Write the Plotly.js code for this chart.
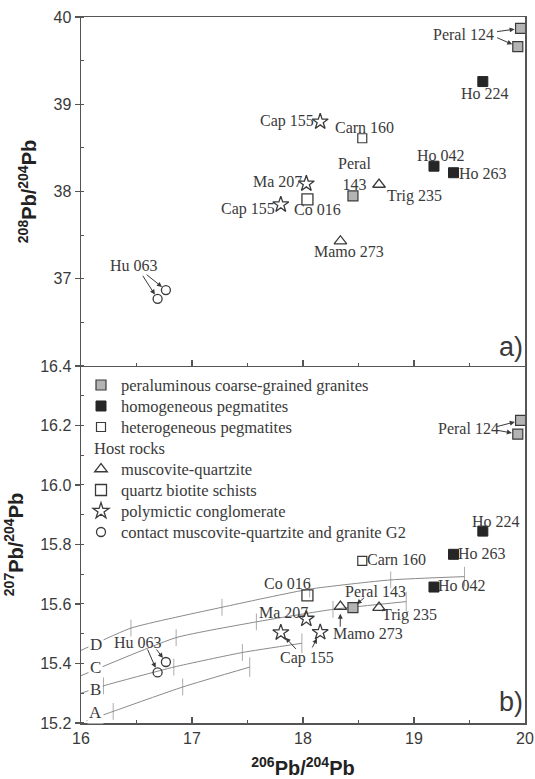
<!DOCTYPE html>
<html>
<head>
<meta charset="utf-8">
<script src="https://cdn.plot.ly/plotly-3.0.1.min.js"></script>
<style>html,body{margin:0;padding:0;background:#fff;}#chart{width:535px;height:779px;}</style>
</head>
<body>
<div id="chart"></div>
<script>
// ---------------- DATA ----------------
// Peraluminous coarse-grained granites
const granNames = ['Peral 124', 'Peral 124', 'Peral 143'];
const gran206 = [19.96, 19.935, 18.45];
const gran207 = [16.217, 16.171, 15.588];
const gran208 = [39.87, 39.66, 37.95];
// Homogeneous pegmatites
const homNames = ['Ho 224', 'Ho 263', 'Ho 042'];
const hom206 = [19.62, 19.356, 19.18];
const hom207 = [15.845, 15.767, 15.657];
const hom208 = [39.26, 38.215, 38.29];
// Heterogeneous pegmatites
const hetNames = ['Carn 160'];
const het206 = [18.534];
const het207 = [15.745];
const het208 = [38.61];
// Host rocks: muscovite-quartzite
const musNames = ['Mamo 273', 'Trig 235'];
const mus206 = [18.337, 18.685];
const mus207 = [15.591, 15.588];
const mus208 = [37.43, 38.08];
// Host rocks: quartz biotite schists
const schNames = ['Co 016'];
const sch206 = [18.04];
const sch207 = [15.629];
const sch208 = [37.91];
// Host rocks: polymictic conglomerate
const conNames = ['Cap 155', 'Cap 155', 'Ma 207'];
const con206 = [17.80, 18.155, 18.03];
const con207 = [15.504, 15.505, 15.55];
const con208 = [37.85, 38.80, 38.09];
// Host rocks: contact muscovite-quartzite and granite G2
const ctcNames = ['Hu 063', 'Hu 063'];
const ctc206 = [16.69, 16.765];
const ctc207 = [15.37, 15.405];
const ctc208 = [36.77, 36.87];

// Pb growth curves A-D (206Pb/204Pb, 207Pb/204Pb)
const curveNames = ['A', 'B', 'C', 'D'];
const curveA206 = [16.05, 16.29, 16.916, 17.52];
const curveA207 = [15.207, 15.239, 15.321, 15.388];
const curveB206 = [16.0, 16.203, 16.836, 17.454, 17.99];
const curveB207 = [15.30, 15.325, 15.388, 15.437, 15.468];
const curveC206 = [16.0, 16.857, 17.58, 18.27, 18.93];
const curveC207 = [15.359, 15.487, 15.54, 15.582, 15.608];
const curveD206 = [16.0, 16.45, 17.27, 18.06, 18.79, 19.455];
const curveD207 = [15.444, 15.519, 15.589, 15.65, 15.681, 15.692];

const legendLabels = ['peraluminous coarse-grained granites', 'homogeneous pegmatites',
  'heterogeneous pegmatites', 'muscovite-quartzite', 'quartz biotite schists',
  'polymictic conglomerate', 'contact muscovite-quartzite and granite G2'];
const hostRocksTitle = 'Host rocks';

const xTicks = [16, 17, 18, 19, 20];
const yTopTicks = [37, 38, 39, 40];
const yBotTicks = [15.2, 15.4, 15.6, 15.8, 16.0, 16.2, 16.4];
const yBotTickText = ['15.2', '15.4', '15.6', '15.8', '16.0', '16.2', '16.4'];

// ---------------- STYLE ----------------
const INK = '#3a3a3a';
const SERIF = 'Liberation Serif, Times New Roman, serif';
const SANS = 'Liberation Sans, Arial, sans-serif';
const groups = [
  {n: granNames, x: gran206, y7: gran207, y8: gran208, sym: 'square', size: 10, fill: '#b4b4b4', lc: INK, lw: 1.2, lg: 'g1'},
  {n: homNames, x: hom206, y7: hom207, y8: hom208, sym: 'square', size: 10, fill: '#262626', lc: '#262626', lw: 1, lg: 'g1'},
  {n: hetNames, x: het206, y7: het207, y8: het208, sym: 'square-open', size: 9, fill: '#fff', lc: INK, lw: 1.2, lg: 'g1'},
  {n: musNames, x: mus206, y7: mus207, y8: mus208, sym: 'triangle-up-open', size: 11, fill: '#fff', lc: INK, lw: 1.3, lg: 'g2'},
  {n: schNames, x: sch206, y7: sch207, y8: sch208, sym: 'square-open', size: 11, fill: '#fff', lc: INK, lw: 1.3, lg: 'g2'},
  {n: conNames, x: con206, y7: con207, y8: con208, sym: 'star-open', size: 12, fill: '#fff', lc: INK, lw: 1.3, lg: 'g2'},
  {n: ctcNames, x: ctc206, y7: ctc207, y8: ctc208, sym: 'circle-open', size: 9, fill: '#fff', lc: INK, lw: 1.3, lg: 'g2'}
];

const traces = [];
// growth curves (bottom panel)
const curves = [[curveA206, curveA207], [curveB206, curveB207], [curveC206, curveC207], [curveD206, curveD207]];
const curveTickSizes = [[0, 12, 12, 14], [0, 12, 12, 12, 14], [0, 12, 12, 12, 14], [0, 12, 12, 12, 12, 14]];
curves.forEach((c, i) => {
  traces.push({
    x: c[0], y: c[1], xaxis: 'x', yaxis: 'y', mode: 'lines+markers', showlegend: false,
    name: curveNames[i], hoverinfo: 'skip',
    line: {color: '#8a8a8a', width: 1, shape: 'spline', smoothing: 0.5},
    marker: {symbol: 'line-ns', size: curveTickSizes[i], line: {color: '#8a8a8a', width: 1}}
  });
});
// bottom panel samples (in legend)
groups.forEach((g, i) => {
  const t = {
    x: g.x, y: g.y7, text: g.n, xaxis: 'x', yaxis: 'y', mode: 'markers', name: legendLabels[i],
    legendgroup: g.lg, showlegend: true,
    marker: {symbol: g.sym, size: g.size, color: g.sym.indexOf('open') >= 0 ? g.lc : g.fill, line: {color: g.lc, width: g.lw}}
  };
  if (i === 3) t.legendgrouptitle = {text: hostRocksTitle, font: {family: SERIF, size: 16.5, color: INK}};
  traces.push(t);
});
// top panel samples
groups.forEach((g, i) => {
  traces.push({
    x: g.x, y: g.y8, text: g.n, xaxis: 'x2', yaxis: 'y2', mode: 'markers', name: legendLabels[i],
    showlegend: false,
    marker: {symbol: g.sym, size: g.size, color: g.sym.indexOf('open') >= 0 ? g.lc : g.fill, line: {color: g.lc, width: g.lw}}
  });
});

// ---------------- LABELS ----------------
function lab(text, x, y, axis, opts) {
  return Object.assign({text: text, x: x, y: y, xref: axis[0], yref: axis[1], showarrow: false,
    font: {family: SERIF, size: 16, color: INK}, xanchor: 'center', yanchor: 'middle'}, opts || {});
}
function arrow(hx, hy, tx, ty, axis, standoff) {
  return {text: '', x: hx, y: hy, ax: tx, ay: ty, xref: axis[0], yref: axis[1], axref: axis[0], ayref: axis[1],
    showarrow: true, arrowhead: 2, arrowsize: 1, arrowwidth: 1, arrowcolor: INK, standoff: standoff || 5};
}
const TOP = ['x2', 'y2'], BOT = ['x', 'y'];
const curveLabFont = {family: SERIF, size: 17, color: INK};
const annotations = [
  // top panel
  lab('Peral 124', 19.446, 39.80, TOP),
  arrow(gran206[0], gran208[0], 19.735, 39.83, TOP, 6),
  arrow(gran206[1], gran208[1], 19.735, 39.77, TOP, 6),
  lab('Ho 224', 19.64, 39.12, TOP),
  lab('Cap 155', 17.855, 38.81, TOP),
  lab('Carn 160', 18.55, 38.735, TOP),
  lab('Ho 042', 19.24, 38.41, TOP),
  lab('Ho 263', 19.62, 38.207, TOP),
  lab('Peral<br>143', 18.46, 38.196, TOP),
  lab('Ma 207', 17.77, 38.12, TOP),
  lab('Trig 235', 19.003, 37.95, TOP),
  lab('Cap 155', 17.508, 37.80, TOP),
  lab('Co 016', 18.132, 37.79, TOP),
  lab('Mamo 273', 18.41, 37.31, TOP),
  lab('Hu 063', 16.477, 37.146, TOP),
  arrow(ctc206[0], ctc208[0], 16.548, 37.05, TOP, 5),
  arrow(ctc206[1], ctc208[1], 16.578, 37.06, TOP, 5),
  lab('a)', 20.0, 36.02, TOP, {font: {family: SANS, size: 27, color: INK}, xanchor: 'right', yanchor: 'bottom'}),
  // bottom panel
  lab('Peral 124', 19.49, 16.191, BOT),
  arrow(gran206[0], gran207[0], 19.735, 16.195, BOT, 6),
  arrow(gran206[1], gran207[1], 19.735, 16.185, BOT, 6),
  lab('Ho 224', 19.74, 15.877, BOT),
  lab('Ho 263', 19.612, 15.77, BOT),
  lab('Carn 160', 18.84, 15.748, BOT),
  lab('Ho 042', 19.43, 15.661, BOT),
  lab('Co 016', 17.86, 15.668, BOT),
  lab('Peral 143', 18.655, 15.641, BOT),
  arrow(gran206[2], gran207[2], 18.563, 15.625, BOT, 5),
  lab('Ma 207', 17.825, 15.573, BOT),
  lab('Trig 235', 18.957, 15.564, BOT),
  lab('Mamo 273', 18.588, 15.50, BOT),
  arrow(mus206[0], mus207[0], 18.335, 15.519, BOT, 7),
  lab('Cap 155', 18.04, 15.417, BOT),
  arrow(con206[0], con207[0], 17.948, 15.444, BOT, 7),
  arrow(con206[1], con207[1], 18.077, 15.449, BOT, 7),
  lab('Hu 063', 16.517, 15.471, BOT),
  arrow(ctc206[0], ctc207[0], 16.594, 15.452, BOT, 5),
  arrow(ctc206[1], ctc207[1], 16.67, 15.452, BOT, 5),
  lab('D', 16.134, 15.463, BOT, {font: curveLabFont, bgcolor: '#fff'}),
  lab('C', 16.134, 15.388, BOT, {font: curveLabFont, bgcolor: '#fff'}),
  lab('B', 16.134, 15.312, BOT, {font: curveLabFont, bgcolor: '#fff'}),
  lab('A', 16.134, 15.236, BOT, {font: curveLabFont, bgcolor: '#fff'}),
  lab('b)', 20.0, 15.215, BOT, {font: {family: SANS, size: 27, color: INK}, xanchor: 'right', yanchor: 'bottom'})
];

const axisLine = {showline: true, linecolor: '#555', linewidth: 1.5, showgrid: false, zeroline: false};
const tickFont = {family: SANS, size: 16, color: INK};
const titleFont = {family: SANS, size: 20, color: '#222', weight: 'bold'};
const SPLIT = 0.5057;

const layout = {
  width: 535, height: 779,
  margin: {l: 81, r: 10, t: 17, b: 56},
  paper_bgcolor: '#fff', plot_bgcolor: '#fff',
  showlegend: true,
  legend: {x: 0.0, y: 0.995 * SPLIT, xanchor: 'left', yanchor: 'top', bgcolor: 'rgba(0,0,0,0)',
    font: {family: SERIF, size: 16.5, color: INK}, tracegroupgap: 0, traceorder: 'grouped', itemclick: false},
  xaxis: Object.assign({}, axisLine, {domain: [0, 1], range: [16, 20], anchor: 'y', tickvals: xTicks,
    ticks: 'inside', ticklen: 6, tickwidth: 1.3, tickcolor: '#555', tickfont: tickFont,
    minor: {dtick: 0.5, ticks: 'inside', ticklen: 3, tickcolor: '#555', tickwidth: 1},
    title: {text: '<sup>206</sup>Pb/<sup>204</sup>Pb', font: titleFont, standoff: 25}}),
  xaxis2: Object.assign({}, axisLine, {domain: [0, 1], range: [16, 20], anchor: 'y2', matches: 'x', mirror: true,
    tickvals: xTicks, showticklabels: false, ticks: 'inside', ticklen: 6, tickwidth: 1.3, tickcolor: '#555',
    minor: {dtick: 0.5, ticks: 'inside', ticklen: 3, tickcolor: '#555', tickwidth: 1}}),
  yaxis: Object.assign({}, axisLine, {domain: [0, SPLIT], range: [15.2, 16.4], anchor: 'x', mirror: true,
    tickvals: yBotTicks, ticktext: yBotTickText, ticks: 'outside', ticklen: 5, tickwidth: 1.3, tickcolor: '#555',
    tickfont: tickFont,
    minor: {dtick: 0.1, ticks: 'inside', ticklen: 3, tickcolor: '#555', tickwidth: 1},
    title: {text: '<sup>207</sup>Pb/<sup>204</sup>Pb', font: titleFont, standoff: 11}}),
  yaxis2: Object.assign({}, axisLine, {domain: [SPLIT, 1], range: [36, 40], anchor: 'x2', mirror: true,
    tickvals: yTopTicks, ticks: 'outside', ticklen: 5, tickwidth: 1.3, tickcolor: '#555', tickfont: tickFont,
    minor: {dtick: 0.5, ticks: 'inside', ticklen: 3, tickcolor: '#555', tickwidth: 1},
    title: {text: '<sup>208</sup>Pb/<sup>204</sup>Pb', font: titleFont, standoff: 11}}),
  annotations: annotations
};

Plotly.newPlot('chart', traces, layout, {staticPlot: true, displayModeBar: false}).then(function (gd) {
  // tighten legend row spacing to match the reference (about 21 px per row)
  const items = Array.from(gd.querySelectorAll('.legend g.traces'));
  const rows = items.map(el => ({el: el, y: el.getBoundingClientRect().top + el.getBoundingClientRect().height / 2}))
    .sort((a, b) => a.y - b.y);
  if (rows.length > 1) {
    const y0 = rows[0].y, step = 21;
    rows.forEach((r, i) => {
      const dy = y0 + i * step - r.y;
      const isTitle = r.el.textContent === hostRocksTitle;
      const dx = isTitle ? 8 : 0;
      const prev = r.el.getAttribute('transform') || '';
      r.el.setAttribute('transform', prev + ' translate(' + dx + ',' + dy + ')');
    });
  }
});
</script>
</body>
</html>
